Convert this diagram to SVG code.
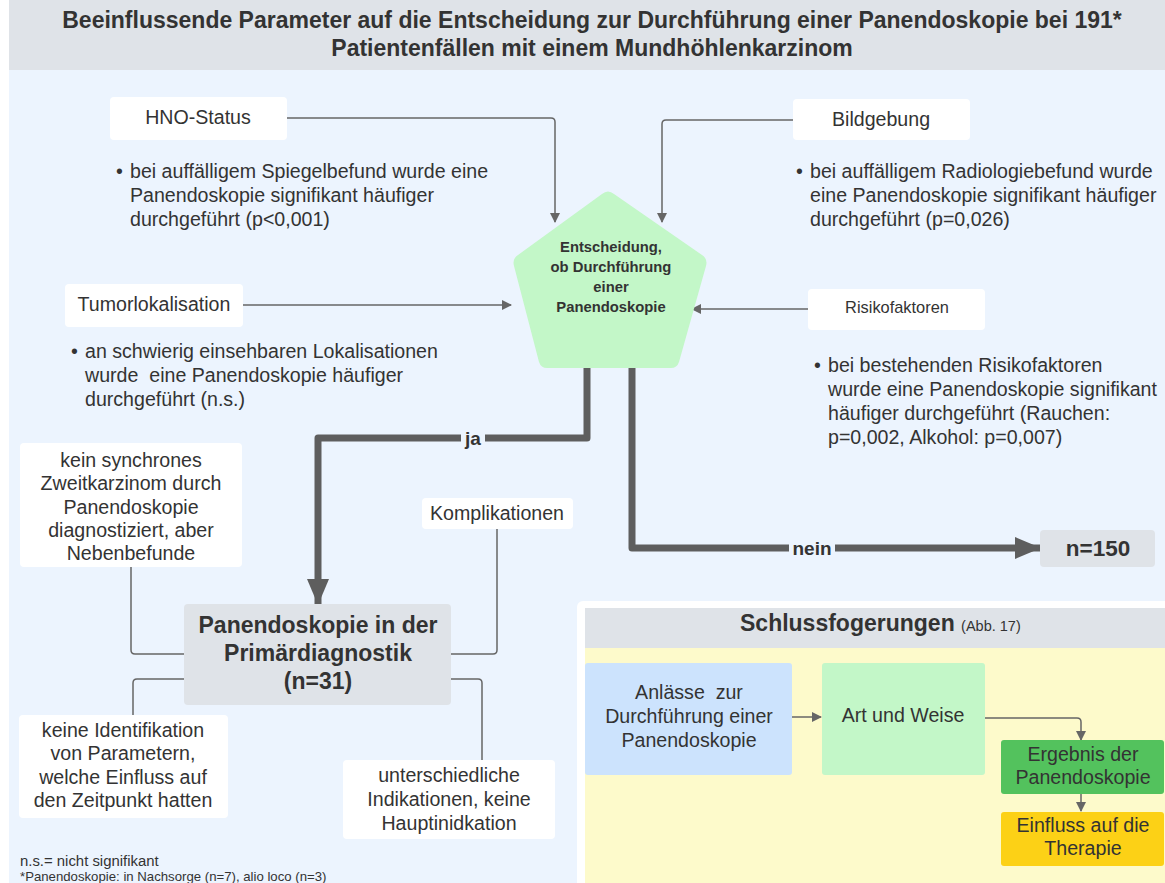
<svg xmlns="http://www.w3.org/2000/svg" width="1165" height="883" viewBox="0 0 1165 883">
<defs>
<style>
text{font-family:"Liberation Sans",Arial,sans-serif;fill:#333;}
.t18{font-size:19.6px;}
.c{text-anchor:middle;}
.b{font-weight:bold;}
.wbox{fill:#fff;}
.thin{fill:none;stroke:#666;stroke-width:1.5;}
.thick{fill:none;stroke:#5e5e5e;stroke-width:7;stroke-linejoin:round;}
</style>
<marker id="ah" markerWidth="10" markerHeight="10" refX="9" refY="5" orient="auto" markerUnits="userSpaceOnUse">
<path d="M0,0 L10,5 L0,10 z" fill="#666"/>
</marker>
<marker id="ahb" markerWidth="26" markerHeight="22" refX="25" refY="11" orient="auto" markerUnits="userSpaceOnUse">
<path d="M0,0 L26,11 L0,22 z" fill="#5e5e5e"/>
</marker>
</defs>
<rect x="0" y="0" width="1165" height="883" fill="#fff"/>
<rect x="9" y="0" width="1156" height="70" fill="#dfe3e8"/>
<rect x="9" y="70" width="1156" height="813" fill="#ecf4fe"/>
<g id="title">
<text x="592" y="28" class="c b" font-size="23">Beeinflussende Parameter auf die Entscheidung zur Durchführung einer Panendoskopie bei 191*</text>
<text x="592" y="56" class="c b" font-size="23">Patientenfällen mit einem Mundhöhlenkarzinom</text>
</g>

<g id="schluss">
<rect x="577" y="601" width="600" height="290" rx="6" fill="#fff"/>
<rect x="585" y="608" width="580" height="40" fill="#dfe3e8"/>
<rect x="585" y="648" width="580" height="235" fill="#fdfacb"/>
<text x="740" y="631" class="b" font-size="23">Schlussfogerungen <tspan font-size="14.5" font-weight="normal">(Abb. 17)</tspan></text>
</g>

<g id="connectors">
<path class="thin" d="M287,118 L551,118 Q555,118 555,122 L555,222" marker-end="url(#ah)"/>
<path class="thin" d="M793,120 L666,120 Q662,120 662,124 L662,222" marker-end="url(#ah)"/>
<path class="thin" d="M243,305 L511,305" marker-end="url(#ah)"/>
<path class="thin" d="M808,309 L692,309" marker-end="url(#ah)"/>
<path class="thick" d="M587,368 L587,438 L318,438 L318,604" marker-end="url(#ahb)"/>
<path class="thick" d="M632,368 L632,548 L1040,548" marker-end="url(#ahb)"/>
<rect x="461" y="428" width="24" height="20" fill="#ecf4fe"/>
<text x="473" y="445" class="c b" font-size="19">ja</text>
<rect x="789" y="538" width="46" height="20" fill="#ecf4fe"/>
<text x="812" y="555" class="c b" font-size="19">nein</text>
<path class="thin" d="M131,567 L131,650 Q131,654 135,654 L184,654"/>
<path class="thin" d="M497,529 L497,650 Q497,654 493,654 L451,654"/>
<path class="thin" d="M184,679 L137,679 Q133,679 133,683 L133,715"/>
<path class="thin" d="M451,679 L478,679 Q482,679 482,683 L482,760"/>
<path class="thin" d="M792,717 L821,717" marker-end="url(#ah)"/>
<path class="thin" d="M985,718 L1077,718 Q1081,718 1081,722 L1081,740" marker-end="url(#ah)"/>
<path class="thin" d="M1081,794 L1081,811" marker-end="url(#ah)"/>
</g>

<g id="hno">
<rect class="wbox" x="110" y="97" width="177" height="43" rx="4"/>
<text x="198" y="124" class="c t18">HNO-Status</text>
<text x="116" y="178" class="t18">•</text>
<text x="130" y="178" class="t18">bei auffälligem Spiegelbefund wurde eine</text>
<text x="130" y="202" class="t18">Panendoskopie signifikant häufiger</text>
<text x="130" y="226" class="t18">durchgeführt (p&lt;0,001)</text>
</g>

<g id="bildgebung">
<rect class="wbox" x="793" y="99" width="177" height="41" rx="4"/>
<text x="881" y="126" class="c t18">Bildgebung</text>
<text x="796" y="178" class="t18">•</text>
<text x="810" y="178" class="t18">bei auffälligem Radiologiebefund wurde</text>
<text x="810" y="202" class="t18">eine Panendoskopie signifikant häufiger</text>
<text x="810" y="226" class="t18">durchgeführt (p=0,026)</text>
</g>

<g id="entscheidung">
<path d="M602,194 Q608,189 614,194 L702,255 Q708,259 706,266 L679,362 Q677,368 671,368 L547,368 Q541,368 539,362 L514,266 Q512,259 518,255 Z" fill="#c3f7c8"/>
<text x="611" y="252" class="c b" font-size="14.8">Entscheidung,</text>
<text x="611" y="272" class="c b" font-size="14.8">ob Durchführung</text>
<text x="611" y="292" class="c b" font-size="14.8">einer</text>
<text x="611" y="312" class="c b" font-size="14.8">Panendoskopie</text>
</g>

<g id="tumor">
<rect class="wbox" x="65" y="284" width="178" height="43" rx="4"/>
<text x="154" y="311" class="c t18">Tumorlokalisation</text>
<text x="71" y="358" class="t18">•</text>
<text x="85" y="358" class="t18" xml:space="preserve">an schwierig einsehbaren Lokalisationen</text>
<text x="85" y="382" class="t18" xml:space="preserve">wurde  eine Panendoskopie häufiger</text>
<text x="85" y="406" class="t18">durchgeführt (n.s.)</text>
</g>

<g id="risiko">
<rect class="wbox" x="808" y="289" width="177" height="41" rx="4"/>
<text x="897" y="313" class="c" font-size="16.4">Risikofaktoren</text>
<text x="814" y="372" class="t18">•</text>
<text x="828" y="372" class="t18">bei bestehenden Risikofaktoren</text>
<text x="828" y="396" class="t18">wurde eine Panendoskopie signifikant</text>
<text x="828" y="420" class="t18">häufiger durchgeführt (Rauchen:</text>
<text x="828" y="444" class="t18">p=0,002, Alkohol: p=0,007)</text>
</g>

<g id="n150">
<rect x="1040" y="530" width="115" height="37" rx="4" fill="#dfe3e8"/>
<text x="1098" y="556" class="c b" font-size="22.5">n=150</text>
</g>

<g id="kein-synchron">
<rect class="wbox" x="20" y="443" width="222" height="124" rx="4"/>
<text x="131" y="467" class="c t18">kein synchrones</text>
<text x="131" y="490" class="c t18">Zweitkarzinom durch</text>
<text x="131" y="514" class="c t18">Panendoskopie</text>
<text x="131" y="537" class="c t18">diagnostiziert, aber</text>
<text x="131" y="560" class="c t18">Nebenbefunde</text>
</g>

<g id="komplikationen">
<rect class="wbox" x="422" y="498" width="151" height="31" rx="4"/>
<text x="497" y="520" class="c t18">Komplikationen</text>
</g>

<g id="panendoskopie">
<rect x="184" y="604" width="267" height="101" rx="4" fill="#dfe3e8"/>
<text x="318" y="633" class="c b" font-size="23">Panendoskopie in der</text>
<text x="318" y="661" class="c b" font-size="23">Primärdiagnostik</text>
<text x="318" y="689" class="c b" font-size="23">(n=31)</text>
</g>

<g id="keine-identifikation">
<rect class="wbox" x="19" y="715" width="209" height="103" rx="4"/>
<text x="123" y="737" class="c t18">keine Identifikation</text>
<text x="123" y="760" class="c t18">von Parametern,</text>
<text x="123" y="784" class="c t18">welche Einfluss auf</text>
<text x="123" y="807" class="c t18">den Zeitpunkt hatten</text>
</g>

<g id="unterschiedliche">
<rect class="wbox" x="343" y="760" width="212" height="79" rx="4"/>
<text x="449" y="782" class="c t18">unterschiedliche</text>
<text x="449" y="806" class="c t18">Indikationen, keine</text>
<text x="449" y="830" class="c t18">Hauptinidkation</text>
</g>

<g id="footnote">
<text x="20" y="866" font-size="14.9">n.s.= nicht signifikant</text>
<text x="20" y="881" font-size="13.2">*Panendoskopie: in Nachsorge (n=7), alio loco (n=3)</text>
</g>

<g id="anlaesse">
<rect x="585" y="663" width="207" height="112" rx="3" fill="#cce3fd"/>
<text x="689" y="699" class="c t18" xml:space="preserve">Anlässe  zur</text>
<text x="689" y="723" class="c t18">Durchführung einer</text>
<text x="689" y="747" class="c t18">Panendoskopie</text>
</g>

<g id="art">
<rect x="822" y="663" width="163" height="112" rx="3" fill="#c3f7c8"/>
<text x="903" y="722" class="c t18">Art und Weise</text>
</g>

<g id="ergebnis">
<rect x="1001" y="740" width="163" height="54" rx="3" fill="#53c25d"/>
<text x="1083" y="761" class="c t18">Ergebnis der</text>
<text x="1083" y="784" class="c t18">Panendoskopie</text>
</g>

<g id="einfluss">
<rect x="1001" y="812" width="163" height="54" rx="3" fill="#fcd116"/>
<text x="1083" y="832" class="c t18">Einfluss auf die</text>
<text x="1083" y="855" class="c t18">Therapie</text>
</g>
</svg>
